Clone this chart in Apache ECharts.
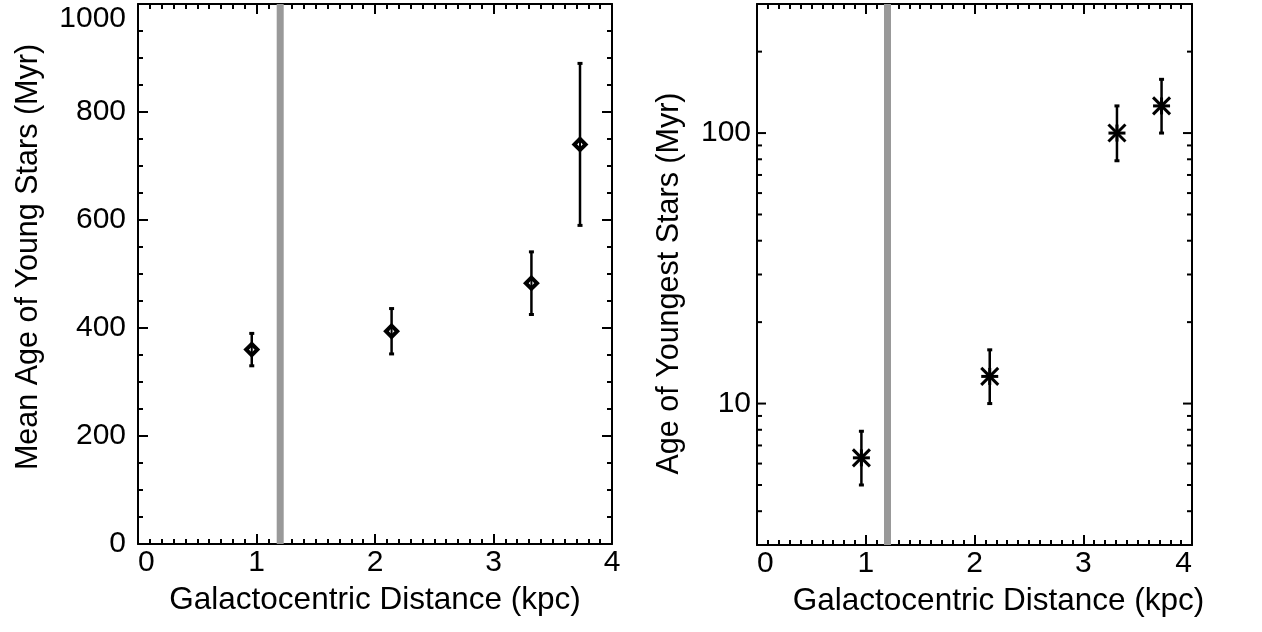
<!DOCTYPE html>
<html>
<head>
<meta charset="utf-8">
<script src="https://cdn.jsdelivr.net/npm/echarts@6/dist/echarts.min.js"></script>
<style>
  html, body { margin: 0; padding: 0; background: #ffffff; }
  #chart { width: 1262px; height: 632px; }
</style>
</head>
<body>
<div id="chart"></div>
<script>
// ---- data ----
const boundaryKpc = 1.2;

// left panel: mean age of young stars (Myr) vs galactocentric distance (kpc)
const distLeft = [0.96, 2.14, 3.32, 3.73];
const meanAge = [360, 394, 483, 740];
const meanAgeErr = [30, 42, 58, 150];

// right panel: age of youngest stars (Myr), log scale
const distRight = [0.96, 2.14, 3.31, 3.72];
const youngestAge = [6.3, 12.6, 100, 126];
const youngestLow = [5.0, 10.0, 79, 100];
const youngestHigh = [7.9, 15.8, 126, 158];

// tick values
const xTickLabels = [0, 1, 2, 3, 4];
const leftYTicks = [0, 200, 400, 600, 800, 1000];
const logMajorTicks = [10, 100];
const logMinorTicks = [4, 5, 6, 7, 8, 9, 20, 30, 40, 50, 60, 70, 80, 90, 200];

const FONT = "'Liberation Sans', Arial, Helvetica, sans-serif";
const FS = 30;
const NFS = 31.5;
const YNFS = 30.5;
const BLACK = '#000000';

const chart = echarts.init(document.getElementById('chart'), null, { renderer: 'canvas' });

function xAxisDef(gridIndex, position, showLabels, alignMin, alignMax, namePad) {
  return {
    type: 'value', gridIndex: gridIndex, position: position,
    min: xTickLabels[0], max: xTickLabels[xTickLabels.length - 1], interval: 1,
    name: showLabels ? 'Galactocentric Distance (kpc)' : '',
    nameLocation: 'middle', nameGap: 40,
    nameTextStyle: { fontFamily: FONT, fontSize: NFS, color: BLACK, padding: namePad || 0 },
    axisLine: { show: true, onZero: false, lineStyle: { color: BLACK, width: 2 } },
    axisTick: { show: true, inside: true, length: 10, lineStyle: { color: BLACK, width: 2 } },
    minorTick: { show: true, splitNumber: 10, length: 5, lineStyle: { color: BLACK, width: 2 } },
    splitLine: { show: false },
    axisLabel: {
      show: showLabels, margin: 4, fontFamily: FONT, fontSize: FS, color: BLACK,
      alignMinLabel: alignMin, alignMaxLabel: alignMax,
      formatter: function (v) { return String(v); }
    }
  };
}

function leftYAxisDef(position, showLabels) {
  return {
    type: 'value', gridIndex: 0, position: position,
    min: leftYTicks[0], max: leftYTicks[leftYTicks.length - 1], interval: 200,
    name: showLabels ? 'Mean Age of Young Stars (Myr)' : '',
    nameLocation: 'middle', nameGap: 94, nameRotate: 90,
    nameTextStyle: { fontFamily: FONT, fontSize: YNFS, color: BLACK, padding: [0, 0, 0, 34] },
    axisLine: { show: true, onZero: false, lineStyle: { color: BLACK, width: 2 } },
    axisTick: { show: true, inside: true, length: 10, lineStyle: { color: BLACK, width: 2 } },
    minorTick: { show: true, splitNumber: 4, length: 5, lineStyle: { color: BLACK, width: 2 } },
    splitLine: { show: false },
    axisLabel: {
      show: showLabels, margin: 12, fontFamily: FONT, fontSize: FS, color: BLACK,
      verticalAlignMaxLabel: 'top',
      formatter: function (v) { return String(v); }
    }
  };
}

function rightYAxisDef(position, showLabels) {
  return {
    type: 'log', logBase: 10, gridIndex: 1, position: position,
    min: 3, max: 300,
    name: showLabels ? 'Age of Youngest Stars (Myr)' : '',
    nameLocation: 'middle', nameGap: 72, nameRotate: 90,
    nameTextStyle: { fontFamily: FONT, fontSize: YNFS, color: BLACK, padding: [0, 18, 0, 0] },
    axisLine: { show: true, onZero: false, lineStyle: { color: BLACK, width: 2 } },
    axisTick: { show: false },
    minorTick: { show: false },
    splitLine: { show: false },
    axisLabel: {
      show: showLabels, margin: 6, fontFamily: FONT, fontSize: FS, color: BLACK,
      formatter: function (v) {
        for (const t of logMajorTicks) {
          if (Math.abs(v - t) / t < 1e-6) return String(t);
        }
        return '';
      }
    }
  };
}

// error bars with diamond markers (left panel)
function renderDiamond(params, api) {
  const x = api.value(0), y = api.value(1), e = api.value(2);
  const c = api.coord([x, y]);
  const lo = api.coord([x, y - e]);
  const hi = api.coord([x, y + e]);
  const h = 5.6;
  return {
    type: 'group',
    children: [
      { type: 'line', shape: { x1: lo[0], y1: lo[1], x2: hi[0], y2: hi[1] }, style: { stroke: BLACK, lineWidth: 2.5 } },
      { type: 'polygon', shape: { points: [[c[0], c[1] - h], [c[0] + h, c[1]], [c[0], c[1] + h], [c[0] - h, c[1]]] },
        style: { fill: '#ffffff', stroke: BLACK, lineWidth: 4, lineJoin: 'miter' } },
      { type: 'line', shape: { x1: c[0], y1: c[1] - h, x2: c[0], y2: c[1] + h }, style: { stroke: BLACK, lineWidth: 2 } },
      { type: 'rect', shape: { x: hi[0] - 2.5, y: hi[1] - 1.5, width: 5, height: 3 }, style: { fill: BLACK } },
      { type: 'rect', shape: { x: lo[0] - 2.5, y: lo[1] - 1.5, width: 5, height: 3 }, style: { fill: BLACK } }
    ]
  };
}

// error bars with asterisk markers (right panel)
function renderAsterisk(params, api) {
  const x = api.value(0), y = api.value(1), l = api.value(2), u = api.value(3);
  const c = api.coord([x, y]);
  const lo = api.coord([x, l]);
  const hi = api.coord([x, u]);
  const s = 8.5;
  const st = { stroke: BLACK, lineWidth: 3 };
  return {
    type: 'group',
    children: [
      { type: 'line', shape: { x1: lo[0], y1: lo[1], x2: hi[0], y2: hi[1] }, style: { stroke: BLACK, lineWidth: 2.5 } },
      { type: 'rect', shape: { x: hi[0] - 2.5, y: hi[1] - 1.5, width: 5, height: 3 }, style: { fill: BLACK } },
      { type: 'rect', shape: { x: lo[0] - 2.5, y: lo[1] - 1.5, width: 5, height: 3 }, style: { fill: BLACK } },
      { type: 'line', shape: { x1: c[0] - s, y1: c[1], x2: c[0] + s, y2: c[1] }, style: st },
      { type: 'line', shape: { x1: c[0] - s, y1: c[1] - s, x2: c[0] + s, y2: c[1] + s }, style: st },
      { type: 'line', shape: { x1: c[0] - s, y1: c[1] + s, x2: c[0] + s, y2: c[1] - s }, style: st },
      { type: 'line', shape: { x1: c[0], y1: c[1] - s, x2: c[0], y2: c[1] + s }, style: st }
    ]
  };
}

// log-axis ticks (both sides of right panel)
function renderLogTick(params, api) {
  const v = api.value(0);
  const cs = params.coordSys;
  const yy = api.coord([0, v])[1];
  const major = logMajorTicks.indexOf(v) >= 0;
  const len = major ? 9 : 5;
  const st = { stroke: BLACK, lineWidth: 2 };
  return {
    type: 'group',
    children: [
      { type: 'line', shape: { x1: cs.x, y1: yy, x2: cs.x + len, y2: yy }, style: st },
      { type: 'line', shape: { x1: cs.x + cs.width, y1: yy, x2: cs.x + cs.width - len, y2: yy }, style: st }
    ]
  };
}

const option = {
  backgroundColor: '#ffffff',
  animation: false,
  grid: [
    { left: 138, top: 4, width: 474, height: 540, containLabel: false },
    { left: 757, top: 4, width: 435, height: 541, containLabel: false }
  ],
  xAxis: [
    xAxisDef(0, 'bottom', true, 'left', 'center'),
    xAxisDef(0, 'top', false),
    xAxisDef(1, 'bottom', true, 'left', 'right', [0, 0, 0, 48]),
    xAxisDef(1, 'top', false)
  ],
  yAxis: [
    leftYAxisDef('left', true),
    leftYAxisDef('right', false),
    rightYAxisDef('left', true),
    rightYAxisDef('right', false)
  ],
  series: [
    {
      type: 'line', xAxisIndex: 0, yAxisIndex: 0, silent: true, symbol: 'none', z: 1,
      lineStyle: { color: '#999999', width: 7 },
      data: [[boundaryKpc, leftYTicks[0]], [boundaryKpc, leftYTicks[leftYTicks.length - 1]]]
    },
    {
      type: 'line', xAxisIndex: 2, yAxisIndex: 2, silent: true, symbol: 'none', z: 1,
      lineStyle: { color: '#999999', width: 7 },
      data: [[boundaryKpc, 3], [boundaryKpc, 300]]
    },
    {
      type: 'custom', xAxisIndex: 0, yAxisIndex: 0, z: 5, clip: false,
      renderItem: renderDiamond,
      data: distLeft.map((d, i) => [d, meanAge[i], meanAgeErr[i]])
    },
    {
      type: 'custom', xAxisIndex: 2, yAxisIndex: 2, z: 5, clip: false,
      renderItem: renderAsterisk,
      data: distRight.map((d, i) => [d, youngestAge[i], youngestLow[i], youngestHigh[i]])
    },
    {
      type: 'custom', xAxisIndex: 2, yAxisIndex: 2, z: 6, clip: false, silent: true,
      renderItem: renderLogTick,
      encode: { y: 0 },
      data: logMajorTicks.concat(logMinorTicks).map(v => [v])
    }
  ]
};

chart.setOption(option);
</script>
</body>
</html>
